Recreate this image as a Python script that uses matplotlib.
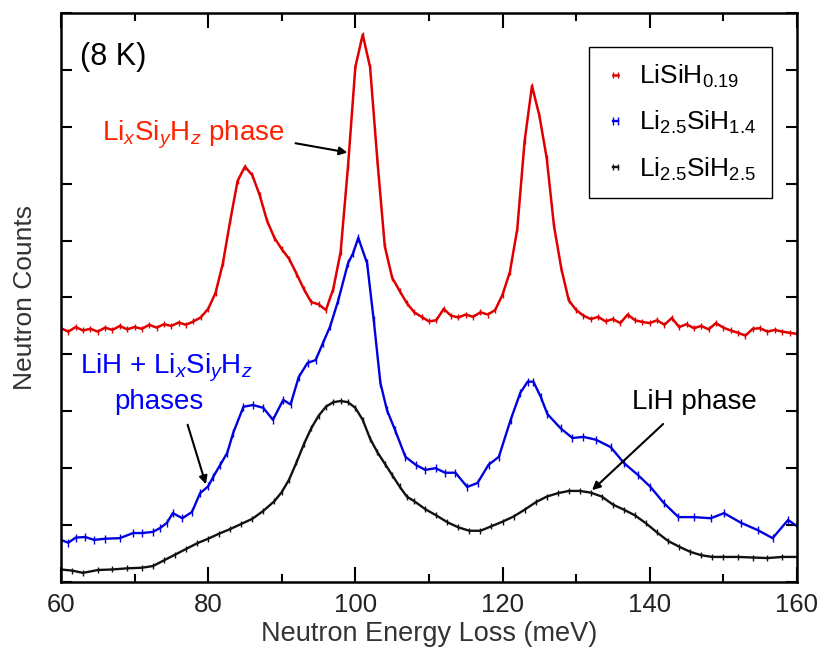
import matplotlib
matplotlib.use("Agg")
import matplotlib.pyplot as plt
import numpy as np

plt.rcParams['font.family'] = ['Liberation Sans', 'DejaVu Sans']
plt.rcParams['mathtext.fontset'] = 'custom'
plt.rcParams['mathtext.rm'] = 'Liberation Sans'
plt.rcParams['mathtext.it'] = 'Liberation Sans:italic'

# LiSiH0.19 (red), 1 meV steps
red_x = np.arange(60, 161, 1)
red_y = [4.46, 4.40, 4.48, 4.42, 4.45, 4.40, 4.47, 4.43, 4.50, 4.44,
         4.48, 4.45, 4.52, 4.47, 4.53, 4.50, 4.56, 4.52, 4.58, 4.65,
         4.80, 5.08, 5.60, 6.35, 7.05, 7.30, 7.15, 6.80, 6.35, 6.05,
         5.85, 5.68, 5.42, 5.15, 4.92, 4.88, 4.78, 5.15, 5.80, 7.30,
         9.05, 9.62, 9.05, 7.40, 5.90, 5.35, 5.12, 4.90, 4.74, 4.66,
         4.58, 4.60, 4.80, 4.68, 4.65, 4.70, 4.66, 4.74, 4.70, 4.78,
         5.05, 5.45, 6.20, 7.75, 8.72, 8.20, 7.45, 6.25, 5.50, 4.95,
         4.78, 4.68, 4.62, 4.66, 4.58, 4.62, 4.55, 4.70, 4.60, 4.57,
         4.55, 4.60, 4.52, 4.64, 4.48, 4.53, 4.46, 4.50, 4.44, 4.55,
         4.47, 4.42, 4.38, 4.33, 4.45, 4.46, 4.40, 4.43, 4.40, 4.38,
         4.36]

# Li2.5SiH1.4 (blue)
blue_x = [60, 61, 62, 63.3, 64.5, 66, 68, 69.8, 71, 72.5, 73.5, 74.4, 75.2,
          76.5, 77.8, 78.9, 80, 80.7, 81.6, 82.6, 83.4, 84.8, 86.1, 87.5,
          88.8, 90.2, 91.2, 92.3, 93.5, 94.6, 95.6, 96.6, 97.7, 99, 99.7,
          100.4, 101.6, 102.5, 103.4, 104.3, 105.4, 106.8, 108.2, 109.5,
          110.9, 112.2, 113.6, 115.2, 116.6, 118.1, 119.5, 121.1, 122.4,
          123.4, 124.2, 125.2, 126.1, 127.9, 129.5, 131, 132.7, 134.7,
          136.5, 138.4, 140.1, 141.9, 143.9, 146, 148.3, 150.1, 152.4,
          154.7, 156.7, 158.8, 160]
blue_y = [0.74, 0.69, 0.78, 0.79, 0.74, 0.76, 0.77, 0.86, 0.86, 0.88, 0.95,
          1.04, 1.21, 1.12, 1.23, 1.56, 1.68, 1.85, 2.05, 2.27, 2.62, 3.08,
          3.11, 3.06, 2.85, 3.20, 3.12, 3.60, 3.85, 3.90, 4.20, 4.50, 4.96,
          5.60, 5.78, 6.05, 5.60, 4.60, 3.50, 3.02, 2.67, 2.20, 2.06, 1.97,
          2.00, 1.92, 1.92, 1.67, 1.74, 2.06, 2.20, 2.85, 3.32, 3.52, 3.52,
          3.25, 2.95, 2.70, 2.53, 2.55, 2.50, 2.37, 2.09, 1.88, 1.67, 1.39,
          1.14, 1.14, 1.12, 1.21, 1.04, 0.91, 0.77, 1.09, 0.98]

# Li2.5SiH2.5 (black)
black_x = [60, 61.5, 63, 65, 67, 69, 71, 72.5, 74, 75.5, 77, 78.5, 80, 81.5,
           83, 84.5, 86, 87.5, 89, 90, 91, 92, 93, 94, 95, 96, 97, 98, 99,
           100, 101, 102, 103, 104, 105, 106, 107, 108, 109.5, 111, 112.5,
           114, 115.5, 117, 118.5, 120, 121.5, 123, 124.5, 126, 127.5, 129,
           130.5, 132, 133.5, 135, 136.5, 138, 139.5, 141, 142.5, 144,
           145.5, 147, 148.5, 150, 152, 154, 156, 158, 160]
black_y = [0.22, 0.20, 0.16, 0.21, 0.22, 0.24, 0.25, 0.28, 0.38, 0.48, 0.58,
           0.68, 0.76, 0.85, 0.93, 1.02, 1.11, 1.25, 1.42, 1.58, 1.80, 2.10,
           2.42, 2.70, 2.92, 3.08, 3.16, 3.18, 3.16, 3.06, 2.85, 2.52, 2.28,
           2.08, 1.88, 1.68, 1.50, 1.42, 1.28, 1.17, 1.05, 0.96, 0.90, 0.90,
           0.98, 1.06, 1.15, 1.27, 1.40, 1.50, 1.56, 1.60, 1.60, 1.57, 1.50,
           1.36, 1.27, 1.17, 1.03, 0.87, 0.72, 0.62, 0.53, 0.47, 0.44, 0.44,
           0.44, 0.43, 0.42, 0.44, 0.44]

labels = [r'LiSiH$_{0.19}$', r'Li$_{2.5}$SiH$_{1.4}$', r'Li$_{2.5}$SiH$_{2.5}$']

fig = plt.figure(figsize=(8.26, 6.48), dpi=100)
ax = fig.add_axes([0.0738, 0.1019, 0.891, 0.878])

ax.plot(red_x, red_y, color='#e00000', lw=1.8, marker='|', ms=5, mew=1, label=labels[0])
ax.plot(blue_x, blue_y, color='#0000e0', lw=1.7, marker='|', ms=6, mew=1, label=labels[1])
ax.plot(black_x, black_y, color='#111111', lw=1.7, marker='|', ms=4, mew=1, label=labels[2])

ax.set_xlim(60, 160)
ax.set_ylim(0, 10)
ax.set_xticks(np.arange(60, 161, 20))
ax.set_xticks(np.arange(70, 160, 20), minor=True)
ax.set_yticks(np.arange(0, 11, 1))
ax.set_yticklabels([])
ax.tick_params(axis='x', which='major', direction='in', top=True, length=11, width=1.5,
               labelsize=18.5, labelcolor='#222222', pad=8)
ax.tick_params(axis='x', which='minor', direction='in', top=True, length=6, width=1.5)
ax.tick_params(axis='y', which='major', direction='in', right=True, length=8, width=1.5)
for s in ax.spines.values():
    s.set_linewidth(1.8)

ax.set_xlabel('Neutron Energy Loss (meV)', fontsize=19.5, color='#333333', labelpad=3)
ax.set_ylabel('Neutron Counts', fontsize=19, color='#333333', labelpad=14)

leg = ax.legend(loc='upper right', bbox_to_anchor=(0.966, 0.940), borderaxespad=0,
                fontsize=19, numpoints=2, handlelength=0.8, handletextpad=0.5,
                labelspacing=0.72, fancybox=False, edgecolor='black', framealpha=1,
                borderpad=0.6)
leg.get_frame().set_linewidth(1.0)

ax.text(62.6, 9.23, '(8 K)', fontsize=22, ha='left', va='center')

ax.text(65.6, 7.86, r'Li$_x$Si$_y$H$_z$ phase', fontsize=20, color='#ff2200',
        ha='left', va='center')
ax.annotate('', xy=(99.3, 7.54), xytext=(91.5, 7.72),
            arrowprops=dict(arrowstyle='-|>', color='black', lw=1.5, mutation_scale=12))

ax.text(74.3, 3.76, r'LiH + Li$_x$Si$_y$H$_z$', fontsize=20, color='#0000ff',
        ha='center', va='center')
ax.text(73.3, 3.16, 'phases', fontsize=20, color='#0000ff', ha='center', va='center')
ax.annotate('', xy=(79.8, 1.67), xytext=(77.1, 2.81),
            arrowprops=dict(arrowstyle='-|>', color='black', lw=1.5, mutation_scale=12))

ax.text(146, 3.16, 'LiH phase', fontsize=20, color='black', ha='center', va='center')
ax.annotate('', xy=(131.9, 1.58), xytext=(142.1, 2.81),
            arrowprops=dict(arrowstyle='-|>', color='black', lw=1.5, mutation_scale=12))

fig.savefig('out.png', dpi=100)
